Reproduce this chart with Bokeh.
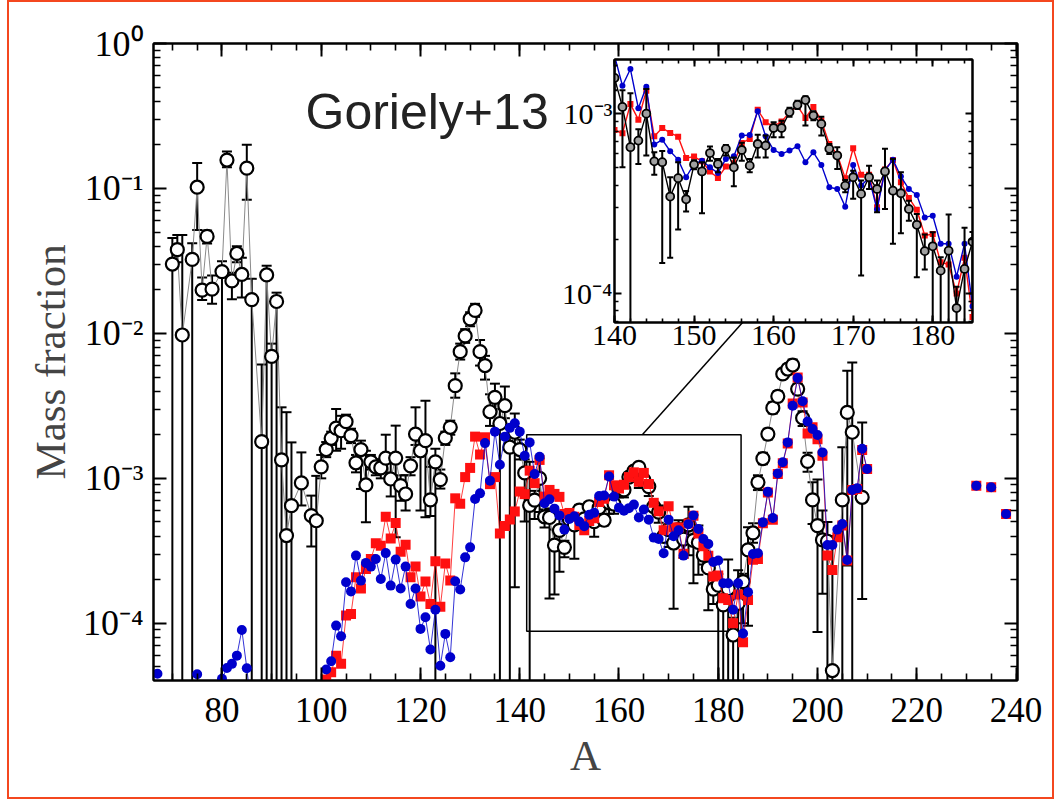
from bokeh.plotting import figure
from bokeh.models import (FixedTicker, LinearAxis, LogAxis, Range1d, Label,
                          CustomJSTickFormatter, ColumnDataSource, InlineStyleSheet)
from bokeh.embed import file_html
from bokeh.resources import INLINE

# ---------------- data ----------------
BELOW = 1e-6   # lower error bound that runs off the bottom of the axis

# black open circles with error bars
black_A = [70, 71, 72, 74, 75, 76, 77, 78, 80, 81, 82, 83, 84, 85, 86, 88, 89, 90, 91, 92,
           93, 94, 96, 98, 99] + list(range(100, 204)) + [205, 206, 207, 209]
black_Y = [
    3.01e-2, 3.78e-2, 9.75e-3, 3.24e-2, 1.02e-1, 1.99e-2, 4.67e-2, 2.02e-2, 2.67e-2, 1.57e-1,
    2.30e-2, 3.56e-2, 2.55e-2, 1.38e-1, 1.71e-2, 1.79e-3, 2.53e-2, 6.94e-3, 1.66e-2, 1.34e-3,
    4.03e-4, 6.48e-4, 9.30e-4, 5.53e-4, 5.10e-4,
    # 100-139
    1.20e-3, 1.58e-3, 1.89e-3, 2.22e-3, 2.13e-3, 2.46e-3, 1.97e-3, 1.28e-3, 1.58e-3, 9.00e-4,
    1.30e-3, 1.20e-3, 1.18e-3, 1.38e-3, 9.90e-4, 1.38e-3, 8.90e-4, 7.80e-4, 1.22e-3, 2.02e-3,
    1.55e-3, 1.82e-3, 7.10e-4, 1.30e-3, 9.80e-4, 1.90e-3, 2.25e-3, 4.36e-3, 7.48e-3, 9.60e-3,
    1.26e-2, 1.44e-2, 7.48e-3, 6.00e-3, 2.88e-3, 3.62e-3, 2.39e-3, 3.17e-3, 1.64e-3, 2.08e-3,
    # 140-185
    1.58e-3, 1.09e-3, 6.51e-4, 7.08e-4, 1.00e-3, 5.43e-4, 5.37e-4, 3.46e-4, 4.38e-4, 3.34e-4,
    5.21e-4, 4.77e-4, 6.04e-4, 5.25e-4, 6.37e-4, 5.03e-4, 6.28e-4, 5.14e-4, 6.78e-4, 6.64e-4,
    8.32e-4, 8.32e-4, 1.02e-3, 1.12e-3, 1.19e-3, 9.75e-4, 8.77e-4, 6.37e-4, 5.85e-4, 3.98e-4,
    4.43e-4, 3.58e-4, 4.43e-4, 3.81e-4, 4.77e-4, 3.73e-4, 3.61e-4, 2.95e-4, 2.41e-4, 1.72e-4,
    1.83e-4, 1.34e-4, 1.73e-4, 8.30e-5, 1.37e-4, 1.94e-4,
    # 186-203
    3.21e-4, 4.20e-4, 9.38e-4, 1.37e-3, 2.02e-3, 3.06e-3, 3.68e-3, 5.25e-3, 5.68e-3, 6.05e-3,
    4.13e-3, 2.61e-3, 1.31e-3, 7.10e-4, 4.72e-4, 3.76e-4, 3.68e-4, 4.72e-5,
    # 205-209
    7.10e-4, 2.85e-3, 2.08e-3, 7.40e-4]
black_lo = [
    BELOW, 3.10e-2, BELOW, BELOW, 5.17e-2, 1.70e-2, 4.17e-2, 1.60e-2, BELOW, 1.40e-1,
    1.72e-2, 3.10e-2, 1.77e-2, 8.36e-2, BELOW, BELOW, BELOW, BELOW, BELOW, BELOW,
    BELOW, BELOW, 6.50e-4, 3.38e-4, BELOW,
    1.00e-3, 1.40e-3, 1.70e-3, 1.55e-3, 1.60e-3, 2.20e-3, 1.75e-3, 1.10e-3, 8.45e-4, 4.97e-4,
    1.15e-3, 1.05e-3, 1.00e-3, 1.10e-3, 7.50e-4, 3.92e-4, 7.00e-4, 6.00e-4, 1.05e-3, 1.70e-3,
    6.00e-4, 5.38e-4, 5.50e-4, BELOW, 8.50e-4, 1.70e-3, 2.00e-3, 3.60e-3, 6.60e-3, 8.60e-3,
    1.12e-2, 1.30e-2, 6.00e-3, 4.80e-3, 2.30e-3, 3.00e-3, BELOW, 2.60e-3, BELOW, 1.77e-4,
    1.35e-3, 5.03e-4, BELOW, 5.25e-4, 5.85e-4, 4.58e-4, 1.48e-4, 1.58e-4, 2.27e-4, 2.86e-4,
    4.90e-4, 2.79e-4, 5.48e-4, 4.72e-4, 5.85e-4, 3.95e-4, 5.48e-4, 4.72e-4, 5.70e-4, 5.70e-4,
    7.39e-4, 7.39e-4, 9.60e-4, 1.06e-3, 8.58e-4, 9.20e-4, 7.55e-4, 5.97e-4, 4.93e-4, 3.66e-4,
    3.36e-4, 1.26e-4, 3.81e-4, 2.83e-4, 2.95e-4, 1.89e-4, 2.16e-4, 2.54e-4, 1.23e-4, 1.36e-4,
    BELOW, BELOW, BELOW, BELOW, BELOW, 1.00e-4,
    9.60e-5, 3.60e-4, 8.30e-4, 1.25e-3, 1.85e-3, 2.80e-3, 3.40e-3, 4.90e-3, 5.30e-3, 5.60e-3,
    3.80e-3, 2.30e-3, 1.11e-3, 4.84e-4, 8.70e-5, 1.60e-4, BELOW, BELOW,
    BELOW, 2.50e-4, BELOW, 1.47e-4]
black_hi = [
    4.55e-2, 4.77e-2, 4.77e-2, 4.18e-2, 1.50e-1, 2.43e-2, 5.13e-2, 2.51e-2, 3.14e-2, 1.80e-1,
    2.62e-2, 4.00e-2, 3.32e-2, 2.00e-1, 2.38e-2, 6.10e-3, 2.93e-2, 8.50e-3, 1.91e-2, 3.09e-3,
    2.86e-3, 1.77e-3, 1.51e-3, 7.60e-4, 1.04e-3,
    1.45e-3, 1.78e-3, 2.10e-3, 3.01e-3, 2.70e-3, 2.75e-3, 2.20e-3, 1.45e-3, 1.82e-3, 1.55e-3,
    1.45e-3, 1.35e-3, 1.35e-3, 2.00e-3, 1.30e-3, 2.31e-3, 1.05e-3, 1.05e-3, 1.40e-3, 3.09e-3,
    1.80e-3, 3.43e-3, 1.20e-3, 1.60e-3, 1.15e-3, 2.10e-3, 2.50e-3, 5.30e-3, 8.50e-3, 1.07e-2,
    1.40e-2, 1.60e-2, 9.00e-3, 7.00e-3, 3.80e-3, 4.50e-3, 3.00e-3, 4.30e-3, 2.20e-3, 2.80e-3,
    1.85e-3, 1.35e-3, 1.30e-3, 8.20e-4, 1.37e-3, 6.10e-4, 6.20e-4, 4.43e-4, 5.37e-4, 3.71e-4,
    5.50e-4, 5.37e-4, 6.56e-4, 5.60e-4, 6.70e-4, 5.70e-4, 6.90e-4, 5.60e-4, 7.64e-4, 7.55e-4,
    8.95e-4, 9.14e-4, 1.08e-3, 1.18e-3, 1.25e-3, 1.03e-3, 9.60e-4, 6.78e-4, 6.50e-4, 4.28e-4,
    4.82e-4, 4.25e-4, 5.14e-4, 4.25e-4, 6.37e-4, 5.60e-4, 4.72e-4, 3.28e-4, 2.77e-4, 2.13e-4,
    2.19e-4, 1.59e-4, 2.75e-4, 1.09e-4, 2.32e-4, 2.20e-4,
    4.60e-4, 4.90e-4, 1.05e-3, 1.50e-3, 2.20e-3, 3.35e-3, 4.00e-3, 5.60e-3, 6.10e-3, 6.60e-3,
    4.50e-3, 2.90e-3, 1.50e-3, 9.40e-4, 9.80e-4, 6.00e-4, 5.00e-4, 4.00e-4,
    1.64e-3, 5.53e-3, 6.30e-3, 2.43e-3]

# red squares
red_A = list(range(101, 211)) + [232, 235, 238]
red_Y = [
    4.10e-5, 4.60e-5, 5.98e-5, 5.25e-5, 1.13e-4, 1.16e-4, 2.08e-4, 1.74e-4, 2.37e-4,
    2.78e-4, 3.56e-4, 3.43e-4, 5.44e-4, 3.85e-4, 4.92e-4, 3.12e-4, 3.48e-4, 2.08e-4, 2.46e-4,
    1.53e-4, 1.94e-4, 1.36e-4, 2.68e-4, 1.30e-4, 2.59e-4, 1.97e-4, 7.28e-4, 6.68e-4, 1.02e-3,
    1.18e-3, 1.94e-3, 1.46e-3, 1.92e-3, 9.12e-4, 1.02e-3, 4.16e-4, 4.69e-4, 5.21e-4, 5.91e-4,
    8.11e-4, 7.78e-4, 1.13e-3, 9.26e-4, 1.34e-3, 7.48e-4, 8.32e-4, 7.81e-4, 7.45e-4, 5.67e-4,
    5.77e-4, 5.43e-4, 4.77e-4, 4.39e-4, 5.08e-4, 5.30e-4, 6.87e-4, 7.23e-4, 1.05e-3, 8.95e-4,
    8.51e-4, 9.03e-4, 1.02e-3, 1.10e-3, 9.46e-4, 1.09e-3, 9.14e-4, 6.78e-4, 5.92e-4, 4.38e-4,
    6.42e-4, 4.58e-4, 4.58e-4, 3.02e-4, 4.89e-4, 5.53e-4, 4.16e-4, 3.40e-4, 2.92e-4, 2.10e-4,
    2.14e-4, 1.49e-4, 1.45e-4, 1.00e-4, 1.58e-4, 7.40e-5,
    1.45e-4, 2.74e-4, 2.78e-4, 4.90e-4, 8.00e-4, 5.17e-4, 1.07e-3, 1.27e-3, 1.74e-3, 3.29e-3,
    4.97e-3, 3.34e-3, 2.04e-3, 2.25e-3, 1.86e-3, 1.43e-3, 2.93e-4, 2.33e-4, 3.92e-4, 4.72e-4,
    2.71e-4, 8.32e-4, 8.45e-4, 1.57e-3, 1.16e-3,
    8.90e-4, 8.67e-4, 5.68e-4]

# blue dots
blue_A = [67, 75, 80, 81, 82, 83, 84, 85, 86] + list(range(101, 211)) + [232, 235, 238]
blue_Y = [
    4.48e-5, 4.45e-5, 4.14e-5, 4.92e-5, 5.25e-5, 5.98e-5, 9.00e-5, 4.90e-5, 2.50e-5,
    4.80e-5, 5.47e-5, 9.64e-5, 8.13e-5, 1.92e-4, 1.66e-4, 2.93e-4, 1.97e-4, 2.61e-4,
    2.46e-4, 2.78e-4, 2.02e-4, 3.05e-4, 1.82e-4, 2.75e-4, 1.74e-4, 2.46e-4, 1.36e-4, 1.74e-4,
    9.15e-5, 1.10e-4, 6.60e-5, 1.24e-4, 5.10e-5, 8.45e-5, 5.83e-5, 1.95e-4, 1.71e-4, 2.85e-4,
    3.34e-4, 7.21e-4, 7.88e-4, 1.75e-3, 9.64e-4, 2.10e-3, 1.24e-3, 1.94e-3, 2.23e-3, 2.40e-3,
    2.10e-3, 1.43e-3, 1.77e-3, 1.07e-3, 1.41e-3, 6.73e-4, 7.17e-4, 6.18e-4, 5.55e-4, 4.43e-4,
    5.25e-4, 5.48e-4, 5.03e-4, 4.68e-4, 5.60e-4, 5.79e-4, 7.55e-4, 7.61e-4, 1.03e-3, 7.48e-4,
    6.28e-4, 5.97e-4, 6.23e-4, 6.59e-4, 5.37e-4, 6.10e-4, 5.19e-4, 3.90e-4, 3.81e-4, 3.04e-4,
    5.19e-4, 3.98e-4, 4.39e-4, 2.93e-4, 4.83e-4, 5.55e-4, 4.47e-4, 3.81e-4, 3.53e-4, 2.65e-4,
    2.71e-4, 1.89e-4, 1.89e-4, 1.24e-4, 1.89e-4, 8.50e-5,
    1.64e-4, 3.01e-4, 3.04e-4, 4.97e-4, 8.07e-4, 5.32e-4, 1.08e-3, 1.29e-3, 1.77e-3, 3.17e-3,
    4.92e-3, 3.40e-3, 2.47e-3, 2.19e-3, 1.99e-3, 1.51e-3, 3.47e-4, 3.47e-4, 4.43e-4, 4.84e-4,
    2.73e-4, 8.32e-4, 8.53e-4, 1.60e-3, 1.16e-3,
    8.90e-4, 8.67e-4, 5.68e-4]

assert len(black_A) == len(black_Y) == len(black_lo) == len(black_hi)
assert len(red_A) == len(red_Y)
assert len(blue_A) == len(blue_Y)

# axes / annotation settings
MAIN_X = (66.2, 240.3)
MAIN_Y = (4.03e-5, 1.0)
MAIN_XTICKS = [80, 100, 120, 140, 160, 180, 200, 220, 240]
MAIN_XMINOR = list(range(70, 241, 5))
MAIN_YTICKS = [1e-4, 1e-3, 1e-2, 1e-1, 1.0]
MAIN_YLABELS = ["10\u207b\u2074", "10\u207b\u00b3", "10\u207b\u00b2", "10\u207b\u00b9", "10\u2070"]
MAIN_YMINOR = [m * d for d in [1e-5, 1e-4, 1e-3, 1e-2, 1e-1] for m in range(2, 10)]

INSET_X = (140, 185)
INSET_Y = (6.9e-5, 2.0e-3)
INSET_XTICKS = [140, 150, 160, 170, 180]
INSET_XMINOR = list(range(140, 186, 2))
INSET_YTICKS = [1e-4, 1e-3]
INSET_YLABELS = ["10\u207b\u2074", "10\u207b\u00b3"]
INSET_YMINOR = [7e-5, 8e-5, 9e-5] + [m * 1e-4 for m in range(2, 10)] + [2e-3]

ZOOM_BOX = dict(left=141.4, right=184.6, bottom=8.8e-5, top=2.0e-3)
CONNECT_A = [164.7, 184.9]
CONNECT_Y = [2.0e-3, 1.19e-2]

SERIF = "Liberation Serif"
RED = "#ff1010"
BLUE = "#0000cc"
W, H = 1057, 801


def runs(xs, ys):
    """split a series into runs of consecutive mass numbers"""
    ox, oy = [[xs[0]]], [[ys[0]]]
    for a, b, v in zip(xs[:-1], xs[1:], ys[1:]):
        if b - a > 1:
            ox.append([])
            oy.append([])
        ox[-1].append(b)
        oy[-1].append(v)
    return ox, oy


def style_axis(ax, major, minor, font_px, standoff):
    ax.axis_line_color = "black"
    ax.axis_line_width = 2
    ax.major_tick_in = major
    ax.major_tick_out = 0
    ax.minor_tick_in = minor
    ax.minor_tick_out = 0
    ax.major_tick_line_width = 2
    ax.minor_tick_line_width = 1.6
    ax.major_tick_line_color = "black"
    ax.minor_tick_line_color = "black"
    ax.major_label_text_font = SERIF
    ax.major_label_text_font_size = f"{font_px}px"
    ax.major_label_text_color = "black"
    ax.major_label_standoff = standoff


blank = CustomJSTickFormatter(code="return ''")

# ---------------- main figure ----------------
main = figure(width=W, height=H, x_range=Range1d(*MAIN_X), y_range=Range1d(*MAIN_Y),
              y_axis_type="log", output_backend="svg", toolbar_location=None,
              min_border_left=153, min_border_right=40, min_border_top=43, min_border_bottom=121,
              background_fill_color="white", border_fill_color="white",
              outline_line_color="black", outline_line_width=2)
main.grid.visible = False

xt = FixedTicker(ticks=MAIN_XTICKS, minor_ticks=MAIN_XMINOR)
yt = FixedTicker(ticks=MAIN_YTICKS, minor_ticks=MAIN_YMINOR)

bx = main.below[0]
bx.ticker = xt
style_axis(bx, 13, 7, 35, 17)
bx.axis_label = "A"
bx.axis_label_text_font = SERIF
bx.axis_label_text_font_size = "43px"
bx.axis_label_text_font_style = "normal"
bx.axis_label_standoff = 7

ly = main.left[0]
ly.ticker = yt
style_axis(ly, 13, 7, 36, 10)
ly.major_label_overrides = dict(zip(MAIN_YTICKS, MAIN_YLABELS))
ly.axis_label = "Mass fraction"
ly.axis_label_text_font = SERIF
ly.axis_label_text_font_size = "43px"
ly.axis_label_text_font_style = "normal"
ly.axis_label_standoff = 6

tx = LinearAxis(ticker=xt, formatter=blank)
style_axis(tx, 13, 7, 1, 0)
main.add_layout(tx, "above")
ry = LogAxis(ticker=yt, formatter=blank)
style_axis(ry, 13, 7, 1, 0)
main.add_layout(ry, "right")

bsrc = ColumnDataSource(dict(A=black_A, Y=black_Y, lo=black_lo, hi=black_hi))

# zoom box and connector
main.quad(fill_color=None, line_color="black", line_width=1.5, **ZOOM_BOX)
main.line(CONNECT_A, CONNECT_Y, line_color="black", line_width=1.5)

# black: error bars, line, circles
main.segment(x0="A", y0="lo", x1="A", y1="hi", source=bsrc, line_color="black", line_width=2)
main.scatter(x="A", y="hi", source=bsrc, marker="dash", size=10, line_color="black", line_width=2)
main.scatter(x="A", y="lo", source=bsrc, marker="dash", size=10, line_color="black", line_width=2)
main.line(x="A", y="Y", source=bsrc, line_color="#8a8a8a", line_width=1)
main.scatter(x="A", y="Y", source=bsrc, marker="circle", size=13, fill_color="white",
             line_color="black", line_width=2.2)

rx, ryy = runs(red_A, red_Y)
main.multi_line(rx, ryy, line_color=RED, line_width=1, line_alpha=0.8)
main.scatter(red_A, red_Y, marker="square", size=10, fill_color=RED, line_color=None)

bxs, bys = runs(blue_A, blue_Y)
main.multi_line(bxs, bys, line_color=BLUE, line_width=1, line_alpha=0.8)
main.scatter(blue_A, blue_Y, marker="circle", size=10, fill_color=BLUE, line_color=None)

main.add_layout(Label(x=152, y=569, x_units="screen", y_units="screen", text="Goriely+13",
                      text_font="Liberation Sans", text_font_size="50px",
                      text_color="#222222", text_baseline="alphabetic"))

main.stylesheets = [InlineStyleSheet(css="""
:host { position: relative; }
:host::after {
  content: ""; position: absolute; left: 7px; top: 0px; width: 1043px; height: 795px;
  border: 2px solid #f4471f; pointer-events: none; z-index: 10;
}
""")]

# ---------------- inset: a transparent full-size overlay whose frame sits top right ----------------
inset = figure(width=W, height=H, x_range=Range1d(*INSET_X), y_range=Range1d(*INSET_Y),
               y_axis_type="log", output_backend="svg", toolbar_location=None,
               min_border_left=614, min_border_right=W - 972, min_border_top=59,
               min_border_bottom=H - 322,
               background_fill_color="white", border_fill_color=None,
               outline_line_color="black", outline_line_width=2)
inset.grid.visible = False
ixt = FixedTicker(ticks=INSET_XTICKS, minor_ticks=INSET_XMINOR)
iyt = FixedTicker(ticks=INSET_YTICKS, minor_ticks=INSET_YMINOR)
inset.below[0].ticker = ixt
style_axis(inset.below[0], 7, 4, 30, 3)
inset.left[0].ticker = iyt
style_axis(inset.left[0], 7, 4, 30, 2)
inset.left[0].major_label_overrides = dict(zip(INSET_YTICKS, INSET_YLABELS))
itx = LinearAxis(ticker=ixt, formatter=blank)
style_axis(itx, 7, 4, 1, 0)
inset.add_layout(itx, "above")
iry = LogAxis(ticker=iyt, formatter=blank)
style_axis(iry, 7, 4, 1, 0)
inset.add_layout(iry, "right")


def sub(xs, *cols):
    keep = [i for i, a in enumerate(xs) if INSET_X[0] <= a <= INSET_X[1]]
    return [[c[i] for i in keep] for c in (xs,) + cols]


rA, rY = sub(red_A, red_Y)
inset.line(rA, rY, line_color=RED, line_width=1.4)
inset.scatter(rA, rY, marker="square", size=6, fill_color=RED, line_color=None)

uA, uY = sub(blue_A, blue_Y)
inset.line(uA, uY, line_color=BLUE, line_width=1.4)
inset.scatter(uA, uY, marker="circle", size=6, fill_color=BLUE, line_color=None)

kA, kY, kl, kh = sub(black_A, black_Y, black_lo, black_hi)
isrc = ColumnDataSource(dict(A=kA, Y=kY, lo=kl, hi=kh))
inset.segment(x0="A", y0="lo", x1="A", y1="hi", source=isrc, line_color="black", line_width=2)
inset.scatter(x="A", y="hi", source=isrc, marker="dash", size=6, line_color="black", line_width=2)
inset.scatter(x="A", y="lo", source=isrc, marker="dash", size=6, line_color="black", line_width=2)
inset.line(x="A", y="Y", source=isrc, line_color="black", line_width=1.4)
inset.scatter(x="A", y="Y", source=isrc, marker="circle", size=8, fill_color="#a0a0a0",
              line_color="black", line_width=1.8)

# overlay exactly on top of the main figure (separate root, so no border alignment)
inset.stylesheets = [InlineStyleSheet(css="""
:host { position: absolute !important; left: 0px !important; top: 0px !important; }
""")]

open("out.html", "w").write(file_html([main, inset], INLINE))
